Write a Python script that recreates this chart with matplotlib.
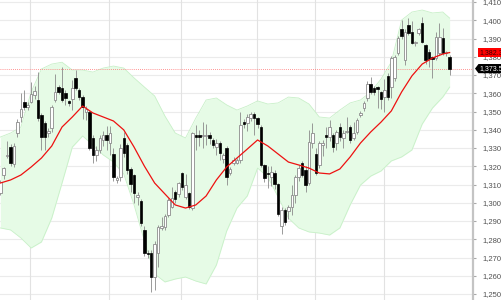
import matplotlib
matplotlib.use("Agg")
import matplotlib.pyplot as plt
import numpy as np
from matplotlib.patches import Polygon
from matplotlib.transforms import blended_transform_factory

# ---------------- data ----------------
opens = [1305.3, 1315.2, 1325.5, 1330.5, 1321.0, 1338.2, 1347.0, 1355.2, 1352.4, 1355.2,
         1359.0, 1356.3, 1348.0, 1343.7, 1338.2, 1341.0, 1356.3, 1363.4, 1362.9, 1360.0,
         1355.5, 1356.8, 1368.4, 1361.8, 1358.0, 1349.7, 1350.0, 1335.5, 1326.2, 1329.0,
         1334.4, 1337.0, 1333.0, 1326.7, 1312.5, 1314.0, 1335.5, 1331.6, 1318.5, 1315.0,
         1303.1, 1301.0, 1285.0, 1272.5, 1272.5, 1259.3, 1272.5, 1286.2, 1286.7, 1293.3,
         1297.7, 1305.9, 1305.0, 1316.3, 1303.1, 1305.3, 1297.1, 1337.1, 1337.0, 1336.5,
         1336.7, 1337.1, 1334.4, 1330.5, 1332.7, 1324.0, 1330.0, 1316.3, 1321.8, 1322.0,
         1323.4, 1344.2, 1343.7, 1346.5, 1348.6, 1346.4, 1341.5, 1320.7, 1316.3, 1314.0,
         1316.3, 1310.3, 1287.0, 1296.0, 1295.5, 1297.7, 1304.2, 1314.1, 1321.8, 1318.0,
         1310.8, 1332.7, 1326.7, 1320.7, 1331.6, 1337.1, 1336.0, 1337.0, 1332.7, 1341.5,
         1335.5, 1338.7, 1341.5, 1335.5, 1338.7, 1348.1, 1351.9, 1357.4, 1365.1, 1362.9,
         1363.4, 1360.7, 1357.9, 1369.5, 1363.4, 1368.4, 1382.1, 1395.2, 1378.2, 1397.4,
         1393.6, 1387.5, 1393.0, 1398.5, 1386.4, 1382.6, 1379.9, 1379.3, 1382.1, 1390.3,
         1381.8, 1379.9]
highs = [1312.5, 1319.5, 1334.0, 1332.0, 1333.0, 1346.0, 1360.0, 1361.8, 1355.0, 1366.0,
         1364.0, 1371.5, 1349.0, 1345.0, 1341.0, 1353.5, 1370.5, 1364.5, 1374.4, 1362.0,
         1356.5, 1367.0, 1372.7, 1363.0, 1359.0, 1353.0, 1351.0, 1337.0, 1331.0, 1337.0,
         1339.5, 1342.0, 1342.0, 1330.0, 1314.5, 1332.0, 1339.0, 1333.0, 1319.5, 1316.0,
         1305.9, 1302.0, 1287.0, 1274.0, 1274.0, 1279.0, 1288.0, 1292.0, 1294.0, 1302.5,
         1308.6, 1307.0, 1311.5, 1317.0, 1316.0, 1306.0, 1339.0, 1342.5, 1340.0, 1344.0,
         1343.0, 1339.0, 1335.5, 1335.0, 1334.0, 1327.5, 1331.0, 1319.5, 1325.0, 1324.5,
         1349.5, 1346.0, 1348.5, 1350.0, 1349.5, 1347.0, 1342.5, 1321.5, 1320.0, 1320.0,
         1318.0, 1311.0, 1297.5, 1297.0, 1299.0, 1309.7, 1315.0, 1320.5, 1323.0, 1320.0,
         1340.0, 1343.5, 1330.0, 1334.0, 1334.5, 1341.5, 1345.5, 1338.0, 1340.0, 1343.5,
         1340.0, 1347.0, 1342.5, 1344.0, 1346.5, 1350.5, 1356.0, 1366.5, 1369.0, 1364.0,
         1363.8, 1361.5, 1368.0, 1371.0, 1380.5, 1381.0, 1391.5, 1400.0, 1395.0, 1401.2,
         1399.5, 1388.5, 1396.0, 1402.0, 1387.0, 1384.0, 1380.5, 1393.6, 1398.5, 1395.7,
         1383.0, 1381.0]
lows = [1304.0, 1313.0, 1324.5, 1320.0, 1319.5, 1336.0, 1344.5, 1350.8, 1351.0, 1354.5,
        1357.0, 1345.0, 1329.0, 1329.0, 1336.0, 1339.0, 1355.0, 1359.5, 1355.0, 1353.5,
        1353.0, 1351.0, 1362.0, 1356.5, 1346.0, 1345.5, 1329.0, 1322.0, 1323.0, 1327.0,
        1331.0, 1329.0, 1326.0, 1312.0, 1311.0, 1312.0, 1325.0, 1316.0, 1306.0, 1300.0,
        1298.8, 1287.0, 1271.0, 1270.0, 1251.0, 1252.0, 1265.0, 1285.0, 1285.0, 1292.0,
        1297.0, 1300.0, 1303.0, 1307.0, 1302.0, 1296.5, 1296.0, 1329.0, 1331.0, 1330.0,
        1331.5, 1332.0, 1330.0, 1326.0, 1323.5, 1322.0, 1309.7, 1315.0, 1320.5, 1321.0,
        1322.0, 1341.0, 1339.5, 1345.0, 1337.0, 1341.0, 1319.5, 1311.5, 1308.0, 1309.0,
        1307.5, 1293.0, 1283.0, 1288.0, 1291.0, 1293.5, 1300.0, 1312.0, 1314.0, 1306.0,
        1310.0, 1330.0, 1315.0, 1319.0, 1325.5, 1330.0, 1334.0, 1328.0, 1329.0, 1334.0,
        1330.0, 1338.0, 1333.0, 1334.5, 1337.5, 1347.0, 1350.5, 1356.0, 1359.5, 1359.0,
        1351.9, 1351.5, 1350.0, 1356.5, 1357.4, 1366.5, 1381.0, 1390.0, 1375.5, 1392.0,
        1387.0, 1386.0, 1392.0, 1387.5, 1376.0, 1374.4, 1368.5, 1378.0, 1381.0, 1381.0,
        1380.5, 1370.0]
closes = [1311.4, 1319.0, 1326.2, 1321.8, 1331.0, 1344.2, 1351.4, 1352.5, 1353.5, 1359.6,
          1361.0, 1346.4, 1336.0, 1336.0, 1339.3, 1352.5, 1360.7, 1360.7, 1356.3, 1357.4,
          1354.7, 1362.9, 1362.9, 1358.0, 1352.5, 1351.3, 1330.0, 1326.2, 1329.0, 1335.5,
          1337.0, 1334.4, 1338.0, 1314.1, 1313.6, 1330.0, 1327.3, 1318.0, 1310.3, 1305.3,
          1304.2, 1289.0, 1272.5, 1271.9, 1259.3, 1277.3, 1286.7, 1287.0, 1292.7, 1301.5,
          1302.5, 1302.0, 1310.8, 1308.6, 1309.7, 1297.7, 1338.2, 1336.3, 1336.2, 1337.1,
          1337.1, 1335.5, 1331.6, 1333.0, 1327.3, 1326.0, 1314.1, 1318.5, 1323.4, 1323.4,
          1342.6, 1343.1, 1347.0, 1348.6, 1346.4, 1343.1, 1320.7, 1313.6, 1315.7, 1317.0,
          1310.3, 1294.0, 1296.0, 1289.5, 1297.7, 1304.2, 1314.1, 1319.0, 1315.2, 1310.0,
          1333.3, 1338.2, 1316.3, 1332.7, 1332.7, 1336.0, 1341.5, 1330.5, 1338.7, 1336.0,
          1338.2, 1339.5, 1334.4, 1338.2, 1345.3, 1349.2, 1354.7, 1365.1, 1360.7, 1360.7,
          1362.5, 1356.8, 1361.8, 1358.0, 1379.3, 1379.9, 1390.3, 1391.4, 1393.6, 1393.0,
          1387.5, 1387.8, 1395.2, 1388.1, 1378.2, 1378.8, 1378.8, 1390.8, 1390.8, 1382.1,
          1382.4, 1373.5]

# moving average and Bollinger bands, read at every third bar
band_idx = [0, 3, 6, 9, 12, 15, 18, 21, 24, 27, 30, 33, 36, 39, 42, 45, 48, 51, 54, 57,
            60, 63, 66, 69, 72, 75, 78, 81, 84, 87, 90, 93, 96, 99, 102, 105, 108, 111,
            114, 117, 120, 123, 126, 129, 131]
ma_vals = [1310.8, 1312.5, 1315.2, 1319.6, 1324.5, 1331.1, 1341.5, 1347.0, 1353.0, 1349.2,
           1347.0, 1344.8, 1339.9, 1330.5, 1320.1, 1310.8, 1304.8, 1298.8, 1297.1, 1298.8,
           1303.7, 1312.5, 1319.6, 1324.5, 1329.4, 1334.4, 1331.1, 1326.7, 1322.3, 1320.7,
           1319.0, 1316.3, 1315.8, 1318.5, 1325.1, 1332.7, 1338.8, 1344.2, 1350.3, 1360.7,
           1369.5, 1376.0, 1379.3, 1381.5, 1382.3]
upper_vals = [1336.0, 1338.2, 1341.5, 1360.7, 1373.3, 1376.0, 1377.0, 1372.7, 1372.7, 1371.6,
              1373.8, 1374.9, 1373.8, 1368.4, 1363.4, 1358.5, 1347.5, 1338.2, 1335.5, 1346.4,
              1356.3, 1357.4, 1353.6, 1350.8, 1353.0, 1355.8, 1354.1, 1354.7, 1357.9, 1357.4,
              1354.1, 1347.0, 1346.4, 1350.8, 1354.7, 1356.3, 1360.7, 1367.8, 1377.1, 1400.1,
              1404.5, 1405.6, 1404.0, 1404.5, 1401.2]
lower_vals = [1286.2, 1285.1, 1280.7, 1275.2, 1278.5, 1291.6, 1310.8, 1330.5, 1336.6, 1331.6,
              1326.2, 1322.3, 1315.7, 1298.8, 1279.1, 1261.0, 1256.6, 1258.2, 1259.3, 1257.1,
              1255.5, 1265.9, 1284.5, 1297.1, 1303.7, 1319.0, 1314.1, 1303.1, 1291.6, 1286.2,
              1284.0, 1283.4, 1282.3, 1286.2, 1298.8, 1309.7, 1314.6, 1317.4, 1322.9, 1325.1,
              1328.9, 1343.1, 1351.9, 1357.9, 1363.4]

month_start_idx = [9, 32, 53, 75, 92, 112]
ytick_vals = list(range(1250, 1411, 10))

# ---------------- figure ----------------
plt.rcParams["font.family"] = ["Liberation Sans", "DejaVu Sans"]
W, H = 501, 300
fig = plt.figure(figsize=(W / 100, H / 100), dpi=100)
plot_w = 473
ax = fig.add_axes([0, 0, plot_w / W, 1])

step_px = 3.43       # pixels per bar
x0_px = 0.3          # pixel of first bar
ppu = 1.825          # pixels per price unit
ax.set_xlim(-x0_px / step_px, (plot_w - x0_px) / step_px)
ax.set_ylim(1410 - (H - 2) / ppu, 1410 + 2 / ppu)

for s in ("top", "left", "bottom"):
    ax.spines[s].set_visible(False)
ax.spines["right"].set_color("#c4c4c4")
ax.spines["right"].set_linewidth(1.6)

ax.yaxis.tick_right()
ax.set_yticks(ytick_vals)
ax.set_yticklabels([f"{v:,}" for v in ytick_vals])
ax.tick_params(axis="y", direction="out", length=2, width=0.8, color="#a8a8a8",
               labelsize=5.5, labelcolor="#505050", pad=4.5)
ax.set_xticks([])

for v in ytick_vals:
    ax.axhline(v, color="#ebebeb", lw=0.8, zorder=0)
for m in month_start_idx:
    ax.axvline(m - 0.25, color="#e2e2e2", lw=0.8, zorder=0)

# Bollinger band
ax.fill_between(band_idx, lower_vals, upper_vals, color="#e6fbe6", lw=0, zorder=1)
ax.plot(band_idx, upper_vals, color="#c8f0c8", lw=0.6, zorder=1.5)
ax.plot(band_idx, lower_vals, color="#c8f0c8", lw=0.6, zorder=1.5)

# last price line
last_price = closes[-1]
ax.axhline(last_price, color="#ff7070", lw=0.6, ls=(0, (1, 1.5)), zorder=2)

# candles
O = np.array(opens); Hh = np.array(highs); L = np.array(lows); C = np.array(closes)
idx = np.arange(len(C))
ax.vlines(idx, L, Hh, color="#8a8a8a", lw=0.6, zorder=3)
up = C >= O
body_h = np.maximum(np.abs(C - O), 0.45)
body_b = np.minimum(O, C)
ax.bar(idx[up], body_h[up], bottom=body_b[up], width=0.74, facecolor="white",
       edgecolor="#8c8c8c", lw=0.6, zorder=4)
ax.bar(idx[~up], body_h[~up], bottom=body_b[~up], width=0.74, facecolor="black",
       edgecolor="black", lw=0.5, zorder=4)

# moving average
ax.plot(band_idx, ma_vals, color="#ee1111", lw=0.9, zorder=5)

# price labels on the right
label_font = ["Liberation Sans Narrow", "Liberation Sans", "DejaVu Sans"]
tr = blended_transform_factory(ax.transAxes, ax.transData)
ma_last = ma_vals[-1]
ax.text(479 / plot_w, ma_last, f"{ma_last:,.1f}", transform=tr, fontsize=5.0,
        family=label_font, color="#3a0000", va="center", ha="left", clip_on=False,
        zorder=10, bbox=dict(boxstyle="square,pad=0.2", fc="#ff0000", ec="none"))
hh = 4.6 / ppu
tag = Polygon([(475 / plot_w, last_price), (478.5 / plot_w, last_price + hh),
               (505 / plot_w, last_price + hh), (505 / plot_w, last_price - hh),
               (478.5 / plot_w, last_price - hh)], closed=True, transform=tr,
              facecolor="black", edgecolor="none", clip_on=False, zorder=10)
ax.add_patch(tag)
ax.text(479.5 / plot_w, last_price, f"{last_price:,.1f}", transform=tr, fontsize=5.0,
        family=label_font, color="white", va="center", ha="left", clip_on=False,
        zorder=11)

fig.savefig("out.png", dpi=100)
